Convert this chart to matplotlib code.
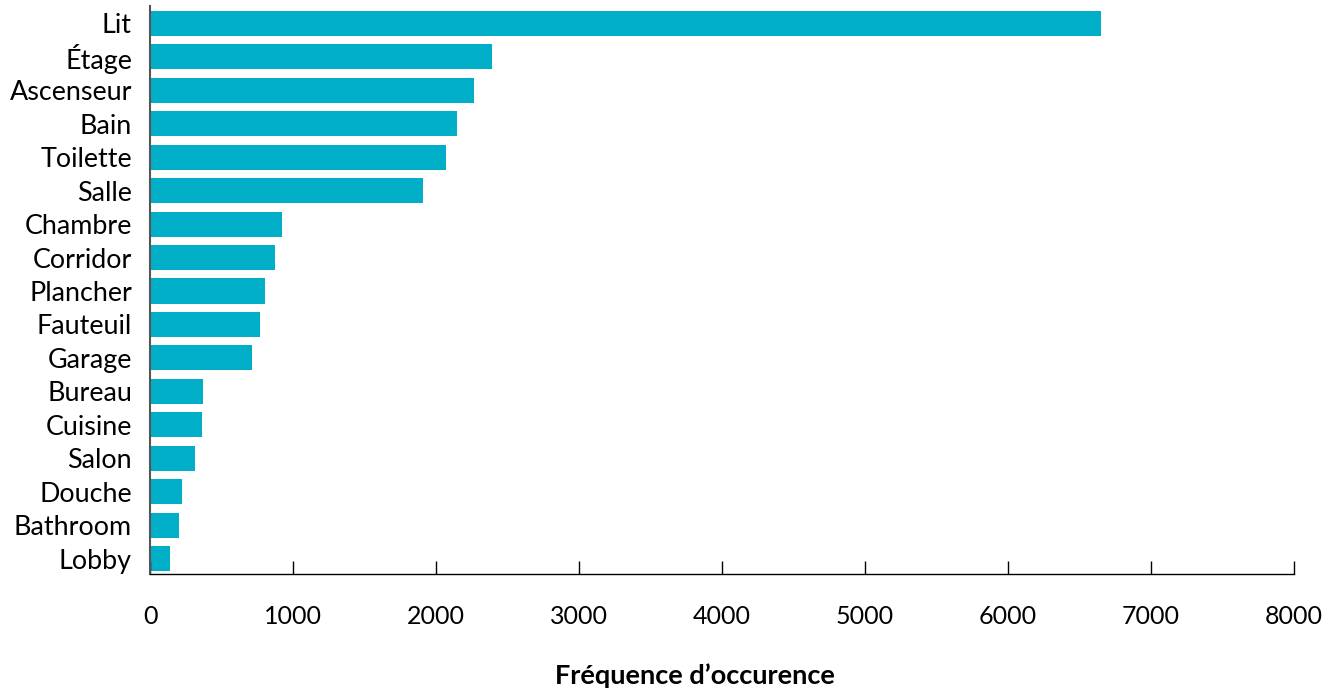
import matplotlib
matplotlib.use("Agg")
import matplotlib.pyplot as plt

# Word frequencies (occurrences per term)
categories = ["Lit", "Étage", "Ascenseur", "Bain", "Toilette", "Salle", "Chambre",
              "Corridor", "Plancher", "Fauteuil", "Garage", "Bureau", "Cuisine",
              "Salon", "Douche", "Bathroom", "Lobby"]
frequencies = [6650, 2390, 2265, 2145, 2070, 1910, 923, 874, 804, 769, 713,
               371, 364, 315, 224, 203, 140]
x_ticks = [0, 1000, 2000, 3000, 4000, 5000, 6000, 7000, 8000]

plt.rcParams["font.family"] = ["Lato", "DejaVu Sans"]

fig = plt.figure(figsize=(13.40, 6.91), dpi=100)
ax = fig.add_axes([150 / 1340, 1 - 574 / 691, (1294 - 150) / 1340, (574 - 6) / 691])

positions = list(range(len(categories)))
ax.barh(positions, frequencies, height=0.75, color="#00AEC7")

ax.set_ylim(len(categories) - 1 + 0.46, -0.52)
ax.set_xlim(0, 8000)
ax.set_xticks(x_ticks)
ax.set_xticklabels([str(t) for t in x_ticks], fontsize=18)
ax.set_yticks(positions)
ax.set_yticklabels(categories, fontsize=19.4)

ax.tick_params(axis="x", direction="in", length=9.5, width=1, color="black", pad=22)
ax.tick_params(axis="y", length=0, pad=13)

for side in ("top", "right"):
    ax.spines[side].set_visible(False)
ax.spines["bottom"].set_color("black")
ax.spines["bottom"].set_linewidth(1.0)
ax.spines["left"].set_color("#555555")
ax.spines["left"].set_linewidth(1.5)

fig.text(695 / 1340, 1 - 676 / 691, "Fréquence d\u2019occurence", ha="center", va="center",
         fontsize=19.5, fontweight="bold")

fig.savefig("out.png", dpi=100, facecolor="white")
